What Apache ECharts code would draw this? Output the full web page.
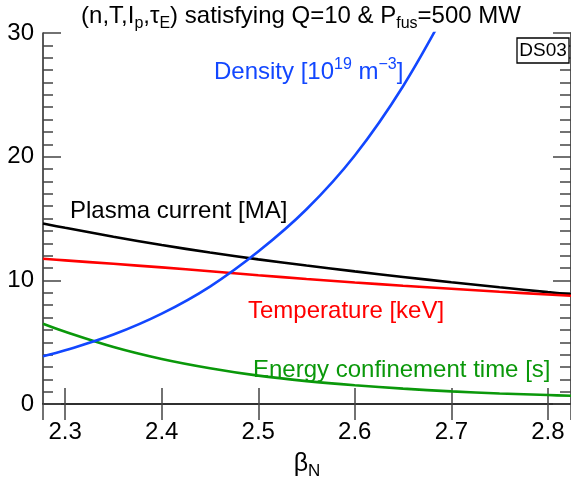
<!DOCTYPE html>
<html>
<head>
<meta charset="utf-8">
<script src="https://cdn.jsdelivr.net/npm/echarts@6/dist/echarts.min.js"></script>
<style>
  html, body { margin: 0; padding: 0; background: #fff; }
  #main { width: 571px; height: 485px; }
</style>
</head>
<body>
<div id="main"></div>
<script>
// beta_N sample points
var betaN = [2.277, 2.30, 2.35, 2.40, 2.45, 2.50, 2.55, 2.60, 2.65, 2.70, 2.75, 2.80, 2.824];
// plasma current [MA]
var current = [14.6, 14.25, 13.53, 12.86, 12.25, 11.7, 11.2, 10.73, 10.28, 9.85, 9.44, 9.05, 8.87];
// temperature [keV]
var temperature = [11.75, 11.62, 11.34, 11.05, 10.74, 10.42, 10.11, 9.83, 9.57, 9.32, 9.08, 8.86, 8.76];
// density [1e19 m^-3], leaves the frame at the top
var density = [3.87, 4.35, 5.62, 7.31, 9.5, 12.33, 15.75, 20.1, 25.7, 32.6, null, null, null];
// energy confinement time [s]
var tauE = [6.5, 5.85, 4.62, 3.65, 2.9, 2.3, 1.86, 1.52, 1.25, 1.03, 0.86, 0.73, 0.67];

var xMin = 2.277, xMax = 2.824;
var yTicks = [0, 10, 20, 30];

var FONT = "'Liberation Sans', Arial, Helvetica, sans-serif";
var BLACK = '#000000', RED = '#ff0000', BLUE = '#1247ff', GREEN = '#0a980a';

function pairs(ys) {
  return betaN.map(function (x, i) { return [x, ys[i]]; });
}

function lineSeries(name, ys, color) {
  return {
    name: name,
    type: 'line',
    data: pairs(ys),
    smooth: 0.35,
    showSymbol: false,
    clip: true,
    lineStyle: { color: color, width: 2.6 },
    itemStyle: { color: color },
    z: 3
  };
}

function label(txt, x, y, color, rich) {
  return {
    type: 'text',
    x: x, y: y,
    style: {
      text: txt,
      fill: color,
      fontSize: 24,
      fontFamily: FONT,
      verticalAlign: 'middle',
      lineHeight: 30,
      rich: rich || {}
    },
    z: 10
  };
}

var supStyle = { fontSize: 16, fontFamily: FONT, verticalAlign: 'top', lineHeight: 30 };
var subStyle = { fontSize: 16, fontFamily: FONT, verticalAlign: 'bottom', lineHeight: 31 };

var axisLineStyle = { color: '#222', width: 1.5 };
var tickStyle = { color: '#444', width: 1.5 };

var chart = echarts.init(document.getElementById('main'));

var option = {
  backgroundColor: '#fff',
  animation: false,
  grid: { left: 43, right: -3, top: 33, bottom: 72 },
  xAxis: [{
    type: 'value', position: 'bottom',
    min: xMin, max: xMax,
    axisLine: { show: true, lineStyle: axisLineStyle },
    axisTick: { show: true, inside: true, length: 16, lineStyle: tickStyle },
    axisLabel: { fontSize: 24, fontFamily: FONT, color: '#000', margin: 16, showMinLabel: false, showMaxLabel: false },
    splitLine: { show: false },
    name: 'β{s|N}',
    nameLocation: 'middle',
    nameGap: 44,
    nameTextStyle: {
      fontSize: 25, fontFamily: FONT, color: '#000', lineHeight: 30,
      rich: { s: { fontSize: 17, fontFamily: FONT, verticalAlign: 'bottom', lineHeight: 31, color: '#000' } }
    }
  }, {
    type: 'value', position: 'top',
    min: xMin, max: xMax,
    axisLine: { show: true, lineStyle: axisLineStyle },
    axisTick: { show: true, inside: true, length: 16, lineStyle: tickStyle },
    axisLabel: { show: false },
    splitLine: { show: false }
  }],
  yAxis: [{
    type: 'value', position: 'left',
    min: yTicks[0], max: yTicks[yTicks.length - 1], interval: 10,
    axisLine: { show: true, lineStyle: axisLineStyle },
    axisTick: { show: true, inside: true, length: 18, lineStyle: tickStyle },
    minorTick: { show: true, splitNumber: 10, length: 10, lineStyle: tickStyle },
    axisLabel: { fontSize: 24, fontFamily: FONT, color: '#000', margin: 9 },
    splitLine: { show: false }
  }, {
    type: 'value', position: 'right',
    min: yTicks[0], max: yTicks[yTicks.length - 1], interval: 10,
    axisLine: { show: true, lineStyle: axisLineStyle },
    axisTick: { show: true, inside: true, length: 18, lineStyle: tickStyle },
    minorTick: { show: true, splitNumber: 10, length: 11, lineStyle: tickStyle },
    axisLabel: { show: false },
    splitLine: { show: false }
  }],
  series: [
    lineSeries('Plasma current', current, BLACK),
    lineSeries('Temperature', temperature, RED),
    lineSeries('Energy confinement time', tauE, GREEN),
    lineSeries('Density', density, BLUE)
  ],
  graphic: [
    {
      type: 'text', x: 301, y: 16, z: 10,
      style: {
        text: '(n,T,I{s|p},τ{s|E}) satisfying Q=10 & P{s|fus}=500 MW',
        fill: '#000', fontSize: 24, fontFamily: FONT,
        align: 'center', verticalAlign: 'middle', lineHeight: 30,
        rich: { s: subStyle }
      }
    },
    label('Plasma current [MA]', 70, 211, BLACK),
    label('Density [10{p|19} m{p|−3}]', 214, 72, BLUE, { p: supStyle }),
    label('Temperature [keV]', 248, 311, RED),
    label('Energy confinement time [s]', 253, 370, GREEN),
    {
      type: 'rect', z: 10,
      shape: { x: 517, y: 38, width: 52, height: 25 },
      style: { fill: '#fff', stroke: '#000', lineWidth: 1.3 }
    },
    {
      type: 'text', x: 543, y: 51, z: 11,
      style: { text: 'DS03', fill: '#000', fontSize: 19, fontFamily: FONT, align: 'center', verticalAlign: 'middle' }
    }
  ]
};

chart.setOption(option);
</script>
</body>
</html>
